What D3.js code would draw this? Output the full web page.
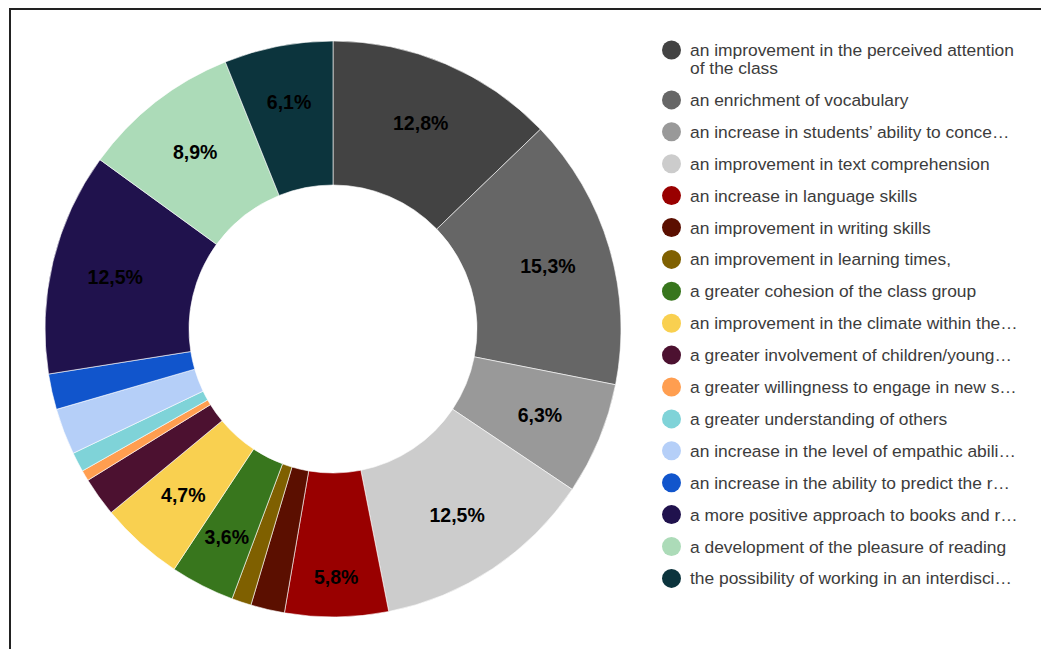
<!DOCTYPE html>
<html>
<head>
<meta charset="utf-8">
<script src="https://cdn.jsdelivr.net/npm/d3@7"></script>
<style>
  html, body { margin: 0; padding: 0; background: #fff; overflow: hidden; }
</style>
</head>
<body>
<div id="chart"></div>
<script>
// donnees du graphique
const categories = [
    "an improvement in the perceived attention\nof the class",
    "an enrichment of vocabulary",
    "an increase in students\u2019 ability to conce\u2026",
    "an improvement in text comprehension",
    "an increase in language skills",
    "an improvement in writing skills",
    "an improvement in learning times,",
    "a greater cohesion of the class group",
    "an improvement in the climate within the\u2026",
    "a greater involvement of children/young\u2026",
    "a greater willingness to engage in new s\u2026",
    "a greater understanding of others",
    "an increase in the level of empathic abili\u2026",
    "an increase in the ability to predict the r\u2026",
    "a more positive approach to books and r\u2026",
    "a development of the pleasure of reading",
    "the possibility of working in an interdisci\u2026"
];
const values = [12.8, 15.3, 6.3, 12.5, 5.8, 1.9, 1.1, 3.6, 4.7, 2.2, 0.6, 1.1, 2.6, 2.0, 12.5, 8.9, 6.1];
const colors = [
    "#434343", "#666666", "#999999", "#cccccc", "#990000", "#5b0f00",
    "#7f6000", "#38761d", "#f9d050", "#4c1130", "#ff9e50", "#7fd3d8",
    "#b5cff8", "#1155cc", "#20124d", "#acdbb8", "#0c343d"
];

const width = 1041, height = 649;
const cx = 333, cy = 329;
const outerR = 288, innerR = 144;
const labelFont = "Arial, 'Liberation Sans', sans-serif";

const svg = d3.select("#chart").append("svg")
    .attr("width", width)
    .attr("height", height);

// cadre (seulement haut et gauche visibles)
svg.append("rect")
    .attr("x", 10).attr("y", 9)
    .attr("width", 1100).attr("height", 700)
    .attr("fill", "none")
    .attr("stroke", "#222")
    .attr("stroke-width", 2);

const data = categories.map((c, i) => ({ label: c, value: values[i], color: colors[i] }));

const pie = d3.pie().value(d => d.value).sort(null);
const arc = d3.arc().innerRadius(innerR).outerRadius(outerR);

const g = svg.append("g").attr("transform", `translate(${cx},${cy})`);
const arcs = pie(data);

g.selectAll("path")
    .data(arcs)
    .join("path")
    .attr("d", arc)
    .attr("fill", d => d.data.color)
    .attr("stroke", "#fff")
    .attr("stroke-width", 0.6);

// largeur horizontale de la part a la hauteur y (coordonnees centrees)
function chordAt(d, r) {
    const mid = (d.startAngle + d.endAngle) / 2;
    const y = -r * Math.cos(mid);
    const xs = [d.startAngle, d.endAngle].map(a => {
        const c = -Math.cos(a);
        return Math.abs(c) < 1e-6 ? Infinity : y * Math.sin(a) / c;
    });
    return Math.abs(xs[0] - xs[1]);
}

// etiquettes des pourcentages : poussees vers l'exterieur si la part est trop etroite
const labels = g.selectAll("text")
    .data(arcs.filter(d => d.data.value >= 3))
    .join("text")
    .attr("text-anchor", "middle")
    .attr("dy", "0.35em")
    .attr("font-family", labelFont)
    .attr("font-size", 19.5)
    .attr("font-weight", "bold")
    .attr("fill", "#000")
    .text(d => d.data.value.toFixed(1).replace(".", ",") + "%");

labels.each(function(d) {
    const w = this.getComputedTextLength();
    let r = 224;
    while (r <= 252 && chordAt(d, r) < 2.05 * w) r += 1;
    if (r > 252) r = 234;
    const mid = (d.startAngle + d.endAngle) / 2;
    d3.select(this).attr("transform", `translate(${r * Math.sin(mid)},${-r * Math.cos(mid)})`);
});

// legende
const legend = svg.append("g");
let y = 50;
data.forEach(d => {
    const lines = d.label.split("\n");
    legend.append("circle")
        .attr("cx", 671.5).attr("cy", y)
        .attr("r", 9.5)
        .attr("fill", d.color);
    lines.forEach((line, k) => {
        legend.append("text")
            .attr("x", 690)
            .attr("y", y + k * 18)
            .attr("dy", "0.35em")
            .attr("font-family", labelFont)
            .attr("font-size", 17.4)
            .attr("fill", "#3c3c3c")
            .text(line);
    });
    y += 31.9 + (lines.length - 1) * 18;
});
</script>
</body>
</html>
